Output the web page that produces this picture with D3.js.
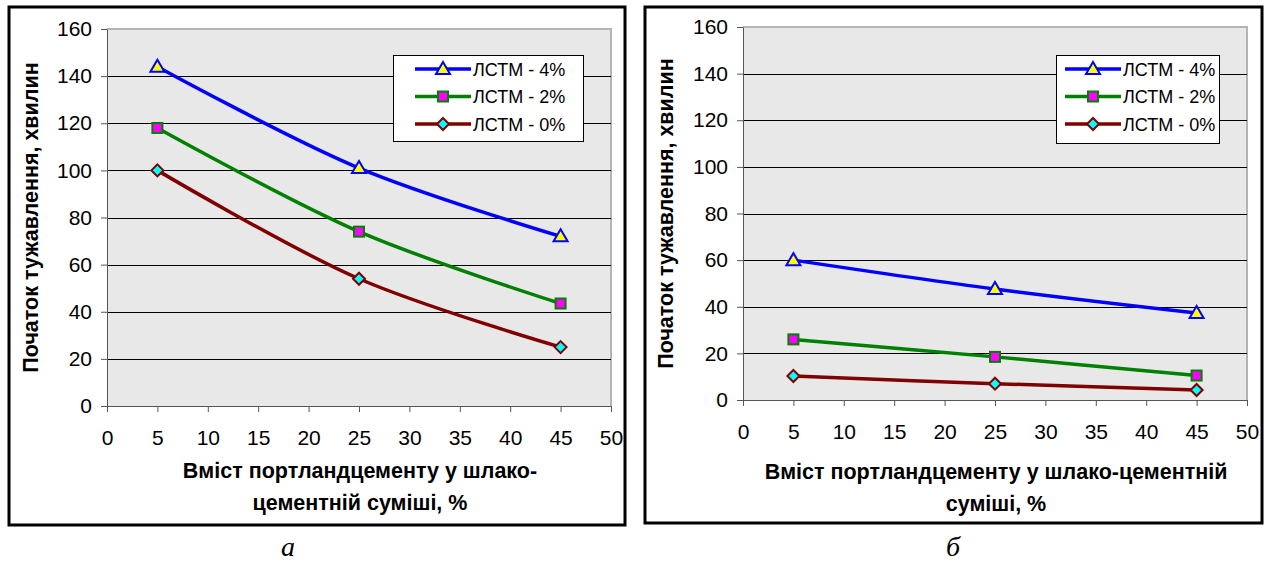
<!DOCTYPE html>
<html>
<head>
<meta charset="utf-8">
<script src="https://cdn.jsdelivr.net/npm/d3@7"></script>
<style>
  body { margin: 0; background: #fff; }
  text { font-family: "Liberation Sans", Arial, sans-serif; }
</style>
</head>
<body>
<div id="chart"></div>
<script>
// ---- data ----
const xValues = [5, 25, 45];
const seriesNames = ["ЛСТМ - 4%", "ЛСТМ - 2%", "ЛСТМ - 0%"];
const panelA4 = [144, 101, 72];
const panelA2 = [118, 74, 43.5];
const panelA0 = [100, 54, 25];
const panelB4 = [60, 47.6, 37.3];
const panelB2 = [26, 18.5, 10.5];
const panelB0 = [10.3, 7, 4.3];
const xTicks = [0, 5, 10, 15, 20, 25, 30, 35, 40, 45, 50];
const yTicks = [0, 20, 40, 60, 80, 100, 120, 140, 160];
const yTitle = "Початок тужавлення, хвилин";

// series styles
var styles = [
    { line: "#0000ff", fill: "#ffff00", shape: "triangle" },
    { line: "#008000", fill: "#ff00ff", shape: "square" },
    { line: "#800000", fill: "#00ffff", shape: "diamond" }
];

var svg = d3.select("#chart").append("svg")
    .attr("width", 1270)
    .attr("height", 563);

function marker(g, shape, fill, stroke) {
    if (shape == "triangle") {
        g.append("path").attr("d", "M0,-7 L7,5 L-7,5 Z")
            .attr("fill", fill).attr("stroke", stroke).attr("stroke-width", 2);
    } else if (shape == "square") {
        g.append("rect").attr("x", -5).attr("y", -5).attr("width", 10).attr("height", 10)
            .attr("fill", fill).attr("stroke", stroke).attr("stroke-width", 2);
    } else {
        g.append("path").attr("d", "M0,-6 L6,0 L0,6 L-6,0 Z")
            .attr("fill", fill).attr("stroke", stroke).attr("stroke-width", 2);
    }
}

function drawPanel(p) {
    var g = svg.append("g");

    // outer frame
    g.append("rect")
        .attr("x", p.frame[0]).attr("y", p.frame[1])
        .attr("width", p.frame[2] - p.frame[0]).attr("height", p.frame[3] - p.frame[1])
        .attr("fill", "#fff").attr("stroke", "#000").attr("stroke-width", 3);

    var xScale = d3.scaleLinear().domain([0, 50]).range([p.left, p.right]);
    var yScale = d3.scaleLinear().domain([0, 160]).range([p.bottom, p.top]);

    // plot area
    g.append("rect")
        .attr("x", p.left).attr("y", p.top)
        .attr("width", p.right - p.left).attr("height", p.bottom - p.top)
        .attr("fill", "#e8e8e8");
    g.append("path")
        .attr("d", `M${p.left},${p.top}H${p.right}V${p.bottom}`)
        .attr("fill", "none").attr("stroke", "#b4b4b4").attr("stroke-width", 2);

    // gridlines
    g.append("g").selectAll("line")
        .data(yTicks.filter(d => d > 0 && d < 160))
        .enter().append("line")
        .attr("x1", p.left).attr("x2", p.right)
        .attr("y1", d => Math.round(yScale(d)) + 0.5)
        .attr("y2", d => Math.round(yScale(d)) + 0.5)
        .attr("stroke", "#000").attr("stroke-width", 1);

    // axes
    var yAxis = d3.axisLeft(yScale).tickValues(yTicks).tickSize(6).tickSizeOuter(0).tickPadding(9);
    var ya = g.append("g").attr("transform", `translate(${p.left},0)`).call(yAxis);
    ya.attr("font-size", null).attr("font-family", null);
    ya.selectAll("text").style("font-size", "21px").attr("fill", "#000");
    ya.selectAll("line, path").attr("stroke", "#555");

    var xAxis = d3.axisBottom(xScale).tickValues(xTicks).tickSize(6).tickSizeOuter(0).tickPadding(p.xPad);
    var xa = g.append("g").attr("transform", `translate(0,${p.bottom})`).call(xAxis);
    xa.attr("font-size", null).attr("font-family", null);
    xa.selectAll("text").style("font-size", "21px").attr("fill", "#000");
    xa.selectAll("line, path").attr("stroke", "#555");

    // lines
    var line = d3.line()
        .x((d, i) => xScale(xValues[i]))
        .y(d => yScale(d))
        .curve(d3.curveCatmullRom);

    p.series.forEach(function(vals, k) {
        g.append("path").datum(vals)
            .attr("d", line)
            .attr("fill", "none")
            .attr("stroke", styles[k].line)
            .attr("stroke-width", 3.5);
    });
    p.series.forEach(function(vals, k) {
        vals.forEach(function(v, i) {
            var m = g.append("g").attr("transform", `translate(${xScale(xValues[i])},${yScale(v)})`);
            marker(m, styles[k].shape, styles[k].fill, styles[k].line);
        });
    });

    // legend
    var lg = p.legend;
    g.append("rect")
        .attr("x", lg.x + 0.5).attr("y", lg.y + 0.5).attr("width", lg.w).attr("height", lg.h)
        .attr("fill", "#fff").attr("stroke", "#000").attr("stroke-width", 1);
    seriesNames.forEach(function(name, k) {
        var yy = lg.y + 14 + k * 27.5;
        g.append("line")
            .attr("x1", lg.lx).attr("x2", lg.lx + 56)
            .attr("y1", yy).attr("y2", yy)
            .attr("stroke", styles[k].line).attr("stroke-width", 3.5);
        var m = g.append("g").attr("transform", `translate(${lg.lx + 28},${yy})`);
        marker(m, styles[k].shape, styles[k].fill, styles[k].line);
        g.append("text")
            .attr("x", lg.lx + 58).attr("y", yy + 6.5)
            .style("font-size", "18px")
            .text(name);
    });

    // axis titles
    g.append("text")
        .attr("transform", `translate(${p.yTitleX},${(p.top + p.bottom) / 2}) rotate(-90)`)
        .attr("text-anchor", "middle")
        .style("font-size", "21.5px").attr("font-weight", "bold")
        .text(yTitle);

    p.xTitle.forEach(function(t, i) {
        g.append("text")
            .attr("x", p.xTitleX).attr("y", p.xTitleY + i * 32)
            .attr("text-anchor", "middle")
            .style("font-size", "21.5px").attr("font-weight", "bold")
            .text(t);
    });

    // caption
    g.append("text")
        .attr("x", p.capX).attr("y", 556)
        .attr("text-anchor", "middle")
        .style("font-family", "Liberation Serif, Times New Roman, serif")
        .attr("font-style", "italic")
        .style("font-size", "28px")
        .text(p.caption);
}

drawPanel({
    frame: [9, 7, 625, 525],
    left: 107, right: 611, top: 29, bottom: 406,
    xPad: 18,
    series: [panelA4, panelA2, panelA0],
    legend: { x: 393, y: 55, w: 190, h: 86, lx: 415 },
    yTitleX: 38,
    xTitle: ["Вміст портландцементу у шлако-", "цементній суміші, %"],
    xTitleX: 360, xTitleY: 478,
    capX: 288, caption: "а"
});

drawPanel({
    frame: [645, 7, 1262, 523],
    left: 743, right: 1247, top: 27, bottom: 400,
    xPad: 18,
    series: [panelB4, panelB2, panelB0],
    legend: { x: 1056, y: 55, w: 163, h: 88, lx: 1065 },
    yTitleX: 673,
    xTitle: ["Вміст портландцементу у шлако-цементній", "суміші, %"],
    xTitleX: 996, xTitleY: 479,
    capX: 953, caption: "б"
});
</script>
</body>
</html>
